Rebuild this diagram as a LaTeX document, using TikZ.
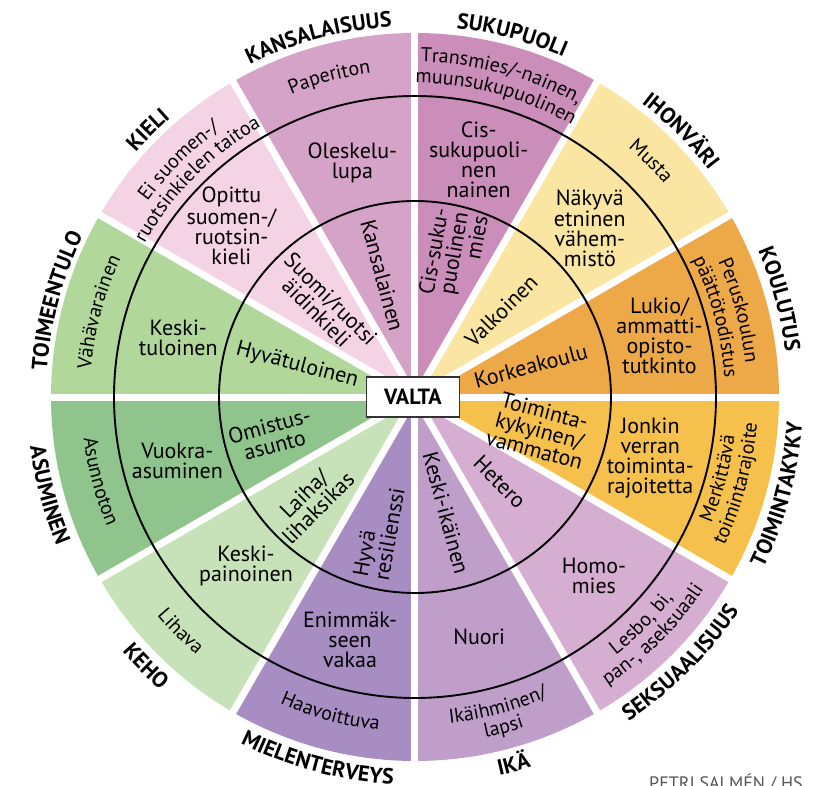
\documentclass[tikz,border=0pt]{standalone}
\usepackage{fontspec}
\setmainfont{PT Sans}
\usetikzlibrary{decorations.text}
\definecolor{cKans}{HTML}{D6A3C8}
\definecolor{cSuku}{HTML}{CB8DBA}
\definecolor{cIhon}{HTML}{FBE5A2}
\definecolor{cKoul}{HTML}{EDA848}
\definecolor{cToim}{HTML}{F5C04C}
\definecolor{cSeks}{HTML}{D5AED1}
\definecolor{cIka}{HTML}{BF9FCA}
\definecolor{cMiel}{HTML}{A88DC3}
\definecolor{cKeho}{HTML}{C7E1B9}
\definecolor{cAsum}{HTML}{8FC58D}
\definecolor{cTulo}{HTML}{B1D79B}
\definecolor{cKiel}{HTML}{F4D3E5}
\definecolor{credit}{HTML}{555555}
\newcommand\catfont{\fontsize{22}{24}\selectfont\bfseries}
\newcommand\outfont{\fontsize{20}{20}\selectfont}
\newcommand\uparc[4]{\path[decorate,decoration={text along path,text align=center,text={|#3|#4}}] (#1+40:#2) arc[start angle=#1+40,end angle=#1-40,radius=#2];}
\newcommand\downarc[4]{\path[decorate,decoration={text along path,text align=center,text={|#3|#4}}] (#1-40:#2) arc[start angle=#1-40,end angle=#1+40,radius=#2];}
\newcommand\sectorfill[2]{\fill[#2] (0,0) -- (#1:364) arc[start angle=#1,end angle=#1+30,radius=364] -- cycle;}
\begin{document}
\begin{tikzpicture}[x=1pt,y=1pt,
  ringtxt/.style={align=center,font=\fontsize{22}{20}\selectfont,inner sep=0pt},
  gap/.style={white,line width=7pt},
  ring/.style={black,line width=1.9pt}]
\useasboundingbox (-415,-388) rectangle (399,397);
% wedges
\sectorfill{90}{cKans}
\sectorfill{60}{cSuku}
\sectorfill{30}{cIhon}
\sectorfill{0}{cKoul}
\sectorfill{-30}{cToim}
\sectorfill{-60}{cSeks}
\sectorfill{-90}{cIka}
\sectorfill{-120}{cMiel}
\sectorfill{-150}{cKeho}
\sectorfill{180}{cAsum}
\sectorfill{150}{cTulo}
\sectorfill{120}{cKiel}
% gaps
\foreach \a in {0,30,...,330} {\draw[gap] (0,0) -- (\a:372);}
% rings
\draw[ring] (0,0) circle[radius=196];
\draw[ring] (0,0) circle[radius=301];
% inner ring texts
\node[ringtxt,rotate=-75] (kansalainen) at (105:126) {Kansalainen};
\node[ringtxt,rotate=80,align=right] (cismies) at (75:147) {Cis-suku-\\puolinen\\mies};
\node[ringtxt,rotate=45] (valkoinen) at (45:122) {Valkoinen};
\node[ringtxt,rotate=15] (korkeakoulu) at (15:120) {Korkeakoulu};
\node[ringtxt,rotate=-15] (vammaton) at (-15:129) {Toiminta-\\kykyinen/\\vammaton};
\node[ringtxt,rotate=-45] (hetero) at (-45:120) {Hetero};
\node[ringtxt,rotate=-75] (keskiikainen) at (-75:120) {Keski-ikäinen};
\node[ringtxt,rotate=80,align=left] (resilienssi) at (255:140) {Hyvä\\resilienssi};
\node[ringtxt,rotate=45] (laiha) at (225:147) {Laiha/\\lihaksikas};
\node[ringtxt,rotate=15] (omistus) at (195:148) {Omistus-\\asunto};
\node[ringtxt,rotate=-15] (hyvatuloinen) at (165:122) {Hyvätuloinen};
\node[ringtxt,rotate=-45] (aidinkieli) at (135:129) {Suomi/ruotsi\\äidinkieli};
% middle ring texts
\node[ringtxt] (oleskelu) at (105:242) {Oleskelu-\\lupa};
\node[ringtxt] (cisnainen) at (75:246) {Cis-\\sukupuoli-\\nen\\nainen};
\node[ringtxt] (vahemmisto) at (44:243) {Näkyvä\\etninen\\vähem-\\mistö};
\node[ringtxt] (lukio) at (14:252) {Lukio/\\ammatti-\\opisto-\\tutkinto};
\node[ringtxt] (jonkin) at (-14.5:243) {Jonkin\\verran\\toiminta-\\rajoitetta};
\node[ringtxt] (homo) at (-45:253) {Homo-\\mies};
\node[ringtxt] (nuori) at (-75:248) {Nuori};
\node[ringtxt] (vakaa) at (255:251) {Enimmäk-\\seen\\vakaa};
\node[ringtxt] (painoinen) at (225:239) {Keski-\\painoinen};
\node[ringtxt] (vuokra) at (195:246) {Vuokra-\\asuminen};
\node[ringtxt] (keskituloinen) at (166:244) {Keski-\\tuloinen};
\node[ringtxt] (opittu) at (137:251) {Opittu\\suomen-/\\ruotsin-\\kieli};
% outer ring texts
\uparc{105}{327}{\outfont}{Paperiton}
\uparc{75}{335}{\outfont}{Transmies/-nainen,}
\uparc{75}{314}{\outfont}{muunsukupuolinen}
\uparc{45}{328}{\outfont}{Musta}
\uparc{15}{332}{\outfont}{Peruskoulun}
\uparc{15}{310}{\outfont}{päättötodistus}
\downarc{-15}{322}{\outfont}{Merkittävä}
\downarc{-15}{343}{\outfont}{toimintarajoite}
\downarc{-45}{327}{\outfont}{Lesbo, bi,}
\downarc{-45}{347}{\outfont}{pan-, aseksuaali}
\downarc{-75}{328}{\outfont}{Ikäihminen/}
\downarc{-75}{348}{\outfont}{lapsi}
\downarc{255}{335}{\outfont}{Haavoittuva}
\downarc{225}{338}{\outfont}{Lihava}
\downarc{195}{334}{\outfont}{Asunnoton}
\uparc{165}{325}{\outfont}{Vähävarainen}
\uparc{135}{331}{\outfont}{Ei suomen-/}
\uparc{135}{311}{\outfont}{ruotsinkielen taitoa}
% category labels
\uparc{135}{371}{\catfont}{KIELI}
\uparc{105}{371}{\catfont}{KANSALAISUUS}
\uparc{75}{371}{\catfont}{SUKUPUOLI}
\uparc{45}{371}{\catfont}{IHONVÄRI}
\uparc{15}{373}{\catfont}{KOULUTUS}
\uparc{165}{369}{\catfont}{TOIMEENTULO}
\downarc{195}{388}{\catfont}{ASUMINEN}
\downarc{225}{388}{\catfont}{KEHO}
\downarc{255}{388}{\catfont}{MIELENTERVEYS}
\downarc{285}{388}{\catfont}{IKÄ}
\downarc{315}{388}{\catfont}{SEKSUAALISUUS}
\downarc{345}{388}{\catfont}{TOIMINTAKYKY}
% centre
\node[draw=black!80,line width=1.4pt,fill=white,minimum width=93,minimum height=40,inner sep=0pt,font=\fontsize{22}{24}\selectfont\bfseries] (valta) at (-2,0) {VALTA};
% credit
\node[anchor=base west,inner sep=0pt,text=credit,font=\fontsize{18}{20}\selectfont] (credit) at (234,-392) {PETRI SALMÉN / HS};
\end{tikzpicture}
\end{document}
